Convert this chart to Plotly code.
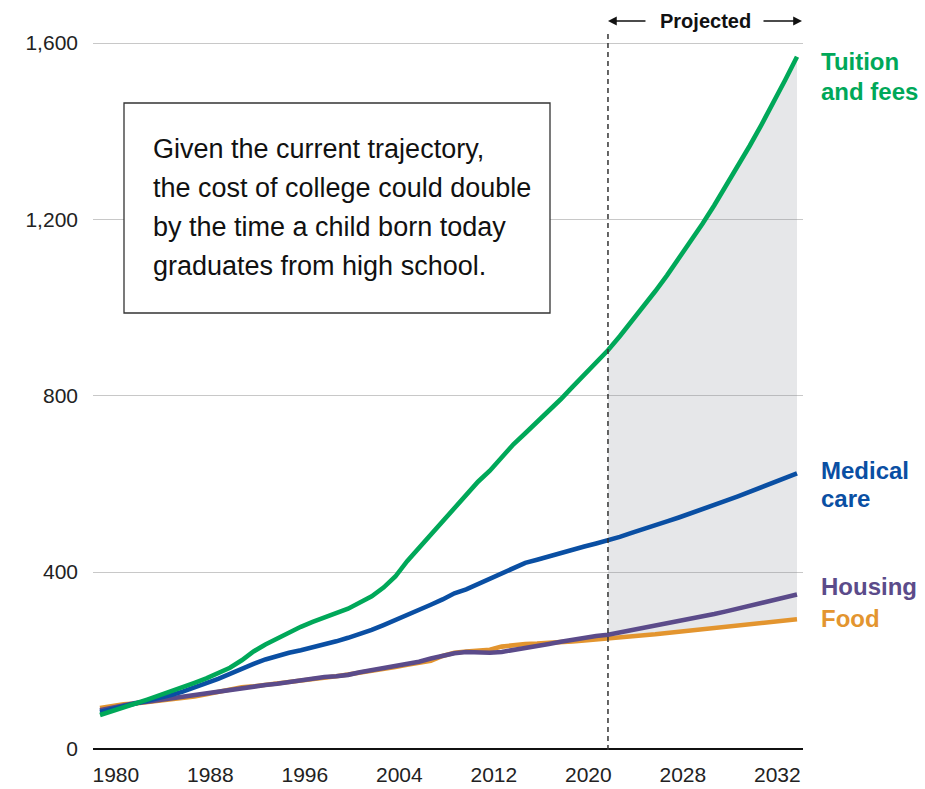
import plotly.graph_objects as go

# ---------------- data ----------------
years = list(range(1979, 2039))
proj_start = 2022

tuition = [76, 84, 93, 102, 111, 120, 129, 139, 149, 159,
           170, 183, 200, 220, 236, 250, 263, 276, 287, 297,
           307, 317, 331, 345, 365, 390, 425, 455, 485, 515,
           545, 575, 605, 630, 660, 690, 715, 740, 765, 792,
           820, 848, 876, 903,
           935, 968, 1002, 1037, 1073, 1111, 1150, 1190, 1232, 1276,
           1320, 1367, 1415, 1464, 1516, 1569]
medical = [83, 90, 96, 102, 108, 114, 121, 129, 138, 148,
           158, 169, 181, 192, 202, 210, 217, 223, 229, 236,
           243, 251, 259, 269, 280, 291, 302, 314, 326, 338,
           352, 361, 373, 385, 397, 410, 421, 428, 436, 443,
           450, 458, 465, 472,
           480, 489, 497, 506, 515, 524, 533, 543, 552, 562,
           572, 582, 592, 603, 613, 624]
housing = [87, 93, 99, 103, 106, 110, 114, 118, 122, 126,
           130, 134, 138, 141, 144, 147, 151, 155, 159, 162,
           164, 167, 173, 178, 182, 186, 191, 197, 204, 210,
           216, 219, 218, 217, 219, 223, 227, 232, 237, 242,
           247, 252, 255, 258,
           263, 268, 273, 278, 283, 289, 294, 300, 305, 311,
           317, 323, 329, 336, 342, 349]
food = [92, 97, 100, 102, 105, 108, 111, 114, 118, 123,
        129, 135, 139, 141, 144, 147, 151, 155, 158, 161,
        164, 168, 172, 175, 179, 185, 190, 194, 199, 210,
        217, 220, 222, 224, 231, 235, 237, 238, 239, 241,
        243, 245, 247, 249,
        252, 254, 257, 259, 262, 265, 267, 270, 273, 276,
        278, 281, 284, 287, 290, 293]

y_tick_vals = [0, 400, 800, 1200, 1600]
y_tick_text = ["0", "400", "800", "1,200", "1,600"]
x_tick_vals = [1980, 1988, 1996, 2004, 2012, 2020, 2028, 2036]
x_tick_text = ["1980", "1988", "1996", "2004", "2012", "2020", "2028", "2032"]

note_lines = ["Given the current trajectory,",
              "the cost of college could double",
              "by the time a child born today",
              "graduates from high school."]
projected_label = "Projected"

series_names = ["Food", "Housing", "Medical care", "Tuition and fees"]
series_values = [food, housing, medical, tuition]
series_colors = ["#E3952F", "#5B4B8A", "#0A4FA3", "#00A859"]
series_labels = [["Food"], ["Housing"], ["Medical", "care"], ["Tuition", "and fees"]]
label_centers_px = [[618.6], [586.6], [470.6, 498.6], [61.6, 91.6]]

# ---------------- layout geometry ----------------
W, H = 925, 789
ML, MR, MT, MB = 93, 122, 30, 39
PW, PH = W - ML - MR, H - MT - MB
PX_PER_YEAR = 697 / 59.0
X_RANGE = [1979 - 7 / PX_PER_YEAR, 2038 + 6 / PX_PER_YEAR]
PX_PER_UNIT = (748.5 - 43) / 1600.0
Y_RANGE = [-(750 - 748.5) / PX_PER_UNIT, (748.5 - 30) / PX_PER_UNIT]


def px_to_paper_x(px):
    return (px - ML) / PW


def px_to_paper_y(py):
    return (MT + PH - py) / PH


FONT = "Liberation Sans, Arial, sans-serif"

fig = go.Figure()

# projected shaded band (between food and tuition projections)
idx = [i for i, y in enumerate(years) if y >= proj_start]
px_years = [years[i] for i in idx]
fig.add_trace(go.Scatter(x=px_years, y=[food[i] for i in idx], mode="lines",
                         line=dict(width=0), hoverinfo="skip", showlegend=False))
fig.add_trace(go.Scatter(x=px_years, y=[tuition[i] for i in idx], mode="lines",
                         line=dict(width=0), fill="tonexty",
                         fillcolor="rgba(128,134,146,0.2)",
                         hoverinfo="skip", showlegend=False))

for name, vals, col in zip(series_names, series_values, series_colors):
    fig.add_trace(go.Scatter(x=years, y=vals, mode="lines", name=name,
                             line=dict(color=col, width=4.6), showlegend=False))

annotations = []
# series labels
for lines, centers, col in zip(series_labels, label_centers_px, series_colors):
    for txt, cy in zip(lines, centers):
        annotations.append(dict(text=txt, xref="paper", yref="paper",
                                x=px_to_paper_x(819), y=px_to_paper_y(cy),
                                xanchor="left", yanchor="middle", showarrow=False,
                                font=dict(family=FONT, size=24, color=col, weight="bold")))

# note text
for i, line in enumerate(note_lines):
    annotations.append(dict(text=line, xref="paper", yref="paper",
                            x=px_to_paper_x(151), y=px_to_paper_y(149.5 + 38.7 * i),
                            xanchor="left", yanchor="middle", showarrow=False,
                            font=dict(family=FONT, size=27, color="#111111")))

# projected label + arrows
arrow_y = px_to_paper_y(21)
annotations.append(dict(text="<b>%s</b>" % projected_label, xref="paper", yref="paper",
                        x=px_to_paper_x(705), y=arrow_y, xanchor="center", yanchor="middle",
                        showarrow=False, font=dict(family=FONT, size=20, color="#111111")))
annotations.append(dict(text="", xref="x", yref="paper", x=proj_start, y=arrow_y,
                        ax=39, ay=0, showarrow=True, arrowhead=2, arrowsize=1.1,
                        arrowwidth=1.6, arrowcolor="#111111"))
annotations.append(dict(text="", xref="paper", yref="paper", x=px_to_paper_x(802), y=arrow_y,
                        ax=-40, ay=0, showarrow=True, arrowhead=2, arrowsize=1.1,
                        arrowwidth=1.6, arrowcolor="#111111"))

shapes = [
    # note box
    dict(type="rect", xref="paper", yref="paper",
         x0=px_to_paper_x(124), x1=px_to_paper_x(550),
         y0=px_to_paper_y(313), y1=px_to_paper_y(103),
         line=dict(color="#333333", width=1.3), fillcolor="white", layer="above"),
    # projection divider
    dict(type="line", xref="x", yref="paper", x0=proj_start, x1=proj_start,
         y0=0, y1=px_to_paper_y(32),
         line=dict(color="#333333", width=1.5, dash="5px,4px")),
]

fig.update_layout(
    width=W, height=H,
    margin=dict(l=ML, r=MR, t=MT, b=MB, pad=0, autoexpand=False),
    paper_bgcolor="white", plot_bgcolor="white",
    showlegend=False,
    annotations=annotations,
    shapes=shapes,
    xaxis=dict(range=X_RANGE, showgrid=False, zeroline=False, showline=False,
               automargin=False,
               tickmode="array", tickvals=x_tick_vals, ticktext=x_tick_text,
               ticks="", ticklabelshift=4, ticklabelstandoff=10,
               tickfont=dict(family=FONT, size=21, color="#222222")),
    yaxis=dict(range=Y_RANGE, showgrid=True, gridcolor="#C8C8C8", gridwidth=1.3,
               automargin=False,
               zeroline=True, zerolinecolor="#111111", zerolinewidth=2,
               showline=False, tickmode="array", tickvals=y_tick_vals,
               ticktext=y_tick_text, ticks="", ticklabelstandoff=14,
               tickfont=dict(family=FONT, size=21, color="#222222")),
)

fig.write_html(
    "out.html",
    config={"displayModeBar": False},
    post_script="document.body.style.margin='0';document.body.style.overflow='hidden';",
)
